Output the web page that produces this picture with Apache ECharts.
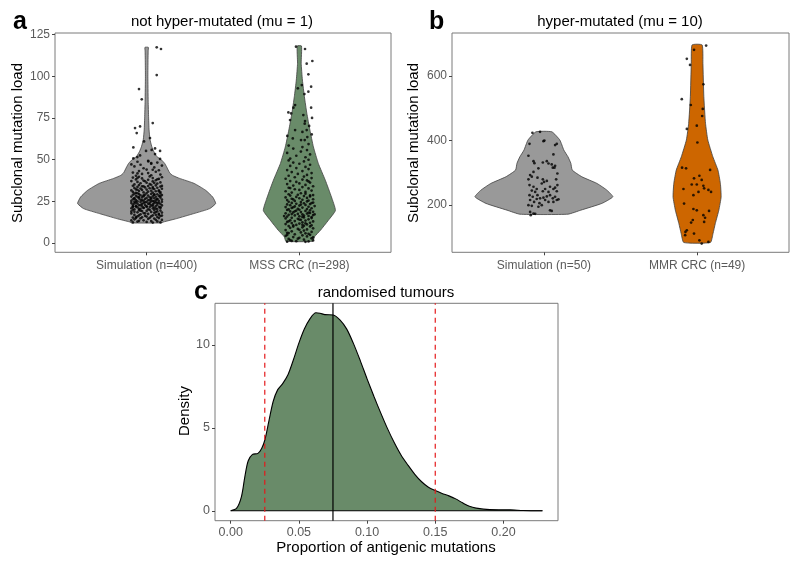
<!DOCTYPE html>
<html><head><meta charset="utf-8">
<script src="https://cdn.jsdelivr.net/npm/echarts/dist/echarts.min.js"></script>
<style>html,body{margin:0;padding:0;background:#fff}#c{width:800px;height:569px}</style>
</head><body><div id="c"></div>
<script>
// ---------- DATA ----------
const titleA = 'not hyper-mutated (mu = 1)';
const titleB = 'hyper-mutated (mu = 10)';
const titleC = 'randomised tumours';
const catsA = ['Simulation (n=400)', 'MSS CRC (n=298)'];
const catsB = ['Simulation (n=50)', 'MMR CRC (n=49)'];
const ticksA = [0, 25, 50, 75, 100, 125];
const ticksB = [200, 400, 600];
const ticksCx = [0, 0.05, 0.10, 0.15, 0.20];
const ticksCy = [0, 5, 10];
const meanLine = 0.075;
const lowLine = 0.025;
const highLine = 0.15;

// violin profiles: [load, half-width (in category units)]
const violinSimA = [[12.0,0.098],[12.6,0.111],[14.6,0.196],[17.6,0.308],[20.6,0.413],[23.7,0.452],[27.6,0.432],[31.6,0.386],[35.7,0.311],[38.7,0.216],[40.5,0.17],[42,0.151],[45.6,0.131],[47.7,0.118],[49.7,0.098],[52,0.065],[55,0.046],[58,0.033],[62,0.022],[67.7,0.016],[75,0.013],[85,0.010],[100,0.008],[110,0.009],[115,0.010],[117.3,0.011]];
const violinMSS = [[1,0.088],[3.6,0.098],[7.6,0.138],[13.6,0.190],[19.5,0.236],[27.6,0.210],[37.6,0.170],[47.7,0.124],[57.6,0.092],[67.7,0.069],[77.7,0.049],[87.7,0.033],[97.7,0.020],[107.7,0.012],[118.1,0.014]];
const violinSimB = [[172,0.157],[184.5,0.241],[205.3,0.378],[225.8,0.450],[246.5,0.411],[267.3,0.346],[287.8,0.248],[308.5,0.185],[329.3,0.176],[349.8,0.157],[370.5,0.130],[401.6,0.104],[427,0.052]];
const violinMMR = [[84.3,0.087],[112.2,0.104],[143.3,0.119],[184.5,0.142],[225.8,0.157],[267.3,0.152],[308.5,0.136],[349.8,0.103],[401.6,0.070],[453,0.055],[535.8,0.044],[639,0.038],[696,0.033]];

// jittered points: [x offset from category, load]
const simAPoints = [[-.09,12.3],[-.06,12.8],[.09,12.4],[.03,13.1],[-.02,13.6],[.06,13.9],[-.08,14.2],[.01,14.5],[.07,12.9],[-.04,14.8],[.05,14.6],[-.1,13.5],[.08,14.9],[-.05,13.3],[.0,12.6],[.1,13.8],[-.07,14.9],[.04,12.2],
[-.09,15.2],[-.03,15.4],[.02,15.1],[.07,15.6],[-.06,15.9],[.09,16.1],[-.01,16.3],[.04,16.6],[-.08,16.8],[.06,16.9],[-.04,17.2],[.01,17.4],[.08,17.5],[-.1,17.7],[-.02,17.9],[.05,18.1],[.1,18.2],[-.06,18.4],[.03,18.6],[-.08,18.7],[.07,18.9],[-.03,19.1],[.0,19.2],[.09,19.4],[-.05,19.6],[.05,19.7],[-.09,19.9],[.02,19.8],[-.07,15.5],[.03,16.0],[-.05,16.5],[.08,17.0],[-.01,17.8],[.06,18.5],[-.04,19.3],[.1,16.4],[-.1,18.9],[.0,15.8],
[-.08,20.1],[.01,20.2],[.07,20.3],[-.04,20.5],[.04,20.7],[-.1,20.8],[.09,20.9],[-.02,21.0],[.05,21.2],[-.06,21.3],[.02,21.5],[-.09,21.6],[.08,21.7],[-.03,21.9],[.0,22.0],[.06,22.1],[-.07,22.2],[.03,22.4],[.1,22.5],[-.05,22.6],[-.01,22.8],[.07,22.9],[-.09,23.0],[.04,23.1],[-.03,23.3],[.09,23.4],[.01,23.5],[-.06,23.6],[.05,23.8],[-.1,23.9],[-.02,24.0],[.08,24.1],[.02,24.2],[-.07,24.3],[.06,24.4],[-.04,24.5],[.0,24.6],[.1,24.7],[-.08,24.8],[.03,24.9],[-.05,20.4],[.06,20.6],[-.02,21.1],[.09,21.4],[-.07,21.8],[.04,22.3],[-.04,22.7],[.02,23.2],[-.08,23.7],[.07,24.0],[-.01,24.4],[.05,24.9],[-.09,22.0],[.0,21.6],
[-.06,25.0],[.04,25.1],[-.1,25.2],[.08,25.3],[-.02,25.4],[.01,25.6],[-.07,25.7],[.06,25.8],[-.04,25.9],[.1,26.0],[-.09,26.2],[.03,26.3],[-.01,26.4],[.07,26.5],[-.05,26.7],[.05,26.8],[-.08,26.9],[.0,27.0],[.09,27.2],[-.03,27.3],[.02,27.4],[-.06,27.6],[.06,27.7],[-.1,27.8],[.04,27.9],[-.02,28.0],[.08,28.2],[-.07,28.3],[.01,28.4],[-.04,28.6],[.1,28.7],[.05,28.8],[-.09,28.9],[-.01,29.0],[.07,29.2],[-.05,29.3],[.03,29.4],[-.08,29.6],[.09,29.7],[.0,29.9],[-.03,25.5],[.07,26.1],[-.08,26.6],[.03,27.1],[-.05,27.5],[.09,28.1],[-.02,28.5],[.05,29.1],[-.06,29.8],[.02,25.9],
[-.07,30.0],[.04,30.2],[-.02,30.3],[.09,30.5],[-.09,30.6],[.01,30.8],[.06,31.0],[-.05,31.1],[.03,31.3],[-.1,31.5],[.08,31.6],[-.03,31.8],[.0,32.0],[-.07,32.1],[.05,32.3],[.1,32.5],[-.04,32.6],[.02,32.8],[-.08,33.0],[.07,33.1],[-.01,33.3],[.04,33.5],[-.06,33.6],[.09,33.8],[-.03,34.0],[.01,34.1],[-.09,34.3],[.06,34.5],[-.05,34.7],[.03,34.9],[.08,30.9],[-.06,31.9],[.04,32.7],[-.02,33.9],[.1,34.2],
[-.08,35.1],[.02,35.3],[.07,35.6],[-.04,35.8],[.0,36.1],[.09,36.3],[-.06,36.6],[.04,36.9],[-.1,37.1],[-.02,37.4],[.06,37.6],[.01,37.9],[-.07,38.1],[.08,38.4],[-.03,38.7],[.04,38.9],[-.09,39.2],[.1,39.4],[-.05,39.7],[.02,39.9],[.05,36.0],[-.01,37.0],[.07,38.2],[-.06,39.0],
[-.07,40.3],[.03,40.6],[.09,41.0],[-.03,41.4],[.01,41.9],[-.09,42.2],[.06,42.7],[-.05,43.1],[.08,43.6],[.0,44.0],[-.02,44.8],[.05,45.3],[-.08,45.9],[.1,46.4],[-.04,46.9],[.03,47.5],[.07,48.2],[-.06,48.7],[.01,49.3],[-.1,47.1],[.04,43.9],[-.06,41.7],
[-.087,50.7],[.088,50.4],[.011,48.9],[-.043,52.5],[.055,53.3],[-.004,55.2],[.033,55.8],[.088,55.2],[-.087,57.3],[-.017,60.9],[.022,62.9],[-.065,65.9],[-.076,68.9],[-.043,69.9],[.040,71.9],[-.032,86.1],[-.050,92.3],[.066,100.7],[.066,117.3],[.094,116.3],[.055,56.7],[-.061,51.5],[.03,47.9]];

const mssPoints = [[-.08,0.8],[-.05,1.2],[.06,0.9],[.09,1.5],[-.02,1.1],[.03,2.0],[-.07,2.4],[.08,2.8],[.0,3.1],[-.04,3.5],[.05,3.9],[-.09,4.2],[.02,4.6],[.07,4.9],[-.06,1.7],[.04,0.7],[-.01,2.6],[.09,3.3],[-.08,4.8],
[-.03,5.2],[.06,5.5],[-.07,5.9],[.01,6.3],[.08,6.6],[-.05,7.0],[.03,7.4],[-.09,7.7],[.05,8.1],[-.01,8.4],[.09,8.8],[-.06,9.1],[.02,9.4],[-.04,9.8],[.07,9.9],[-.08,6.1],[.0,7.9],[.04,5.8],
[-.07,10.1],[.03,10.3],[.08,10.6],[-.02,10.8],[.05,11.1],[-.09,11.3],[.0,11.6],[-.05,11.9],[.07,12.1],[.02,12.4],[-.08,12.6],[.09,12.9],[-.03,13.1],[.04,13.4],[-.06,13.6],[.01,13.9],[.06,14.2],[-.01,14.5],[-.09,14.7],[.08,14.9],[-.04,10.5],[.04,11.8],[-.07,13.0],[.0,14.0],[.02,10.9],
[-.05,15.1],[.03,15.3],[.08,15.5],[-.08,15.8],[.0,16.0],[.06,16.2],[-.03,16.5],[.09,16.7],[-.07,16.9],[.02,17.1],[-.01,17.4],[.05,17.6],[-.09,17.8],[.07,18.0],[-.04,18.3],[.01,18.5],[.09,18.7],[-.06,18.9],[.04,19.2],[-.02,19.4],[.07,19.6],[-.08,19.8],[.0,19.9],[.03,16.4],[-.05,17.3],[.06,18.2],[-.1,16.1],[.02,15.6],[-.03,19.0],[.1,17.2],
[-.07,20.1],[.05,20.3],[-.01,20.5],[.08,20.8],[-.05,21.0],[.02,21.2],[-.09,21.5],[.06,21.7],[-.03,21.9],[.1,22.1],[.0,22.4],[-.06,22.6],[.04,22.8],[-.08,23.1],[.07,23.3],[-.02,23.5],[.03,23.8],[-.05,24.0],[.09,24.2],[.01,24.5],[-.07,24.7],[.05,24.9],[-.04,21.4],[.01,23.0],[.08,23.9],
[-.03,25.2],[.06,25.4],[-.08,25.7],[.02,25.9],[.09,26.2],[-.05,26.5],[.0,26.8],[.05,27.0],[-.09,27.3],[-.02,27.6],[.07,27.9],[.03,28.1],[-.06,28.4],[.09,28.7],[-.01,28.9],[-.07,29.2],[.04,29.5],[.01,29.8],[-.04,26.1],[.07,28.5],
[-.05,30.2],[.04,30.6],[-.09,31.0],[.08,31.4],[.0,31.8],[-.03,32.2],[.06,32.7],[-.07,33.1],[.02,33.5],[.09,34.0],[-.04,34.4],[.04,34.8],[-.08,35.3],[.0,35.7],[.07,36.2],[-.02,36.6],[-.06,37.1],[.05,37.5],[.02,38.0],[-.09,38.5],[.08,38.9],[-.03,39.4],[.03,39.8],[-.06,32.9],[.06,36.9],
[-.07,40.3],[.05,40.8],[-.01,41.4],[.08,41.9],[-.05,42.5],[.02,43.1],[-.08,43.7],[.06,44.3],[-.02,44.9],[.04,45.6],[-.06,46.2],[.07,46.9],[.0,47.5],[-.04,48.2],[.03,48.9],[-.07,49.5],[.06,49.9],
[-.06,50.6],[.04,51.4],[-.02,52.3],[.07,53.1],[-.08,54.0],[.01,54.8],[.05,55.7],[-.04,56.6],[.02,57.5],[-.07,58.4],[.06,59.3],
[-.022,117.7],[.037,116.3],[.085,109.1],[.048,107.5],[.059,101.1],[.077,93.7],[-.010,92.7],[.059,90.7],[.033,89.3],[.016,94.7],[-.028,82.7],[-.039,81.1],[.077,81.1],[-.072,78.3],[-.054,77.7],[.026,76.7],[.083,75.0],[-.061,73.7],[.037,73.1],[.064,70.2],[.035,71.5],[-.028,67.7],[.048,67.7],[.020,66.6],[.081,65.1],[-.079,64.2],[.052,63.5],[-.043,62.7],[.011,61.7],[.035,61.7]];

const simBPoints = [[-.075,424],[-.025,427],[.003,400],[-.003,398],[-.094,390],[.084,390],[.073,386],[.062,357],[-.101,353],[-.068,336],[-.062,330],[-.007,332],[.019,336],[.030,329],[.051,326],[.073,322],[.058,316],[.069,316],[.088,298],[-.036,314],[-.068,303],[-.090,293],[-.079,288],[-.042,285],[-.101,280],[-.007,280],[.001,272],[-.014,267],[.019,275],[.080,280],[-.094,262],[-.068,257],[-.047,250],[.040,257],[.088,262],[.073,254],[-.079,245],[-.057,241],[-.007,243],[.008,250],[.030,241],[.062,250],[.084,243],[-.094,231],[-.073,226],[-.042,231],[-.025,221],[-.003,223],[.019,227],[.040,231],[.058,221],[.073,226],[.095,218],[-.090,216],[-.064,210],[-.047,219],[-.029,206],[.008,216],[.030,210],[.062,210],[.084,216],[-.101,200],[-.079,198],[-.036,195],[-.014,200],[.040,184],[-.090,179],[-.068,174],[.051,182],[-.086,169],[-.057,173]];

const mmrPoints = [[-.020,681],[.059,694],[-.067,653],[-.046,634],[.041,574],[-.100,528],[-.041,510],[.037,498],[.033,476],[-.002,446],[-.067,436],[.002,394],[-.098,316],[-.072,314],[.085,309],[.015,291],[-.020,283],[.030,278],[-.035,264],[-.002,264],[.041,260],[-.089,250],[-.024,231],[.046,252],[.074,247],[.091,241],[.009,241],[-.085,205],[-.024,188],[-.002,184],[.078,182],[.041,169],[.052,161],[-.028,154],[.046,148],[-.039,146],[-.067,122],[-.076,117],[-.078,107],[-.020,112],[.015,91],[.030,81],[.074,86]];

// density curve: [proportion, density]
const densityC = [[0,0],[0.0044,0.16],[0.0079,0.86],[0.0104,2.06],[0.0128,3.0],[0.0160,3.40],[0.0200,3.46],[0.0227,3.76],[0.0250,4.25],[0.0280,5.4],[0.0312,6.6],[0.0345,7.3],[0.0380,7.65],[0.0420,8.2],[0.0460,9.1],[0.0500,10.1],[0.0540,10.95],[0.0580,11.55],[0.0625,11.93],[0.0655,11.9],[0.0691,11.82],[0.0752,11.8],[0.0801,11.5],[0.0850,10.96],[0.0899,10.1],[0.0950,9.05],[0.1000,7.95],[0.1050,6.9],[0.1100,5.9],[0.1150,4.95],[0.1200,4.1],[0.1250,3.35],[0.1300,2.75],[0.1350,2.2],[0.1400,1.75],[0.1450,1.42],[0.1500,1.22],[0.1550,1.05],[0.1600,0.9],[0.1650,0.72],[0.1700,0.48],[0.1750,0.27],[0.1800,0.16],[0.1900,0.07],[0.2000,0.06],[0.2050,0.06],[0.2144,0.02],[0.2286,0]];

// ---------- STYLE / LAYOUT ----------
const FONT = '"Liberation Sans", Arial, Helvetica, sans-serif';
const LABEL_C = '#5a5a5a';
const GREY = '#999999', GREEN = '#698B69', ORANGE = '#CD6600', RED = '#e41a1c';
const AX_A = [-5.6, 125.9], AX_B = [54, 733], AX_CX = [-0.0115, 0.2400], AX_CY = [-0.595, 12.5];

function violin(xi, cat, profile, color) {
  return {
    type: 'custom', xAxisIndex: xi, yAxisIndex: xi, silent: true, z: 2,
    data: [[cat, profile[0][0]], [cat, profile[profile.length - 1][0]]],
    renderItem: function (params, api) {
      if (params.dataIndex !== 0) return null;
      const pts = [];
      for (let i = 0; i < profile.length; i++) pts.push(api.coord([cat + profile[i][1], profile[i][0]]));
      for (let i = profile.length - 1; i >= 0; i--) pts.push(api.coord([cat - profile[i][1], profile[i][0]]));
      return { type: 'polygon', shape: { points: pts, smooth: 0.15 }, style: { fill: color, stroke: '#404040', lineWidth: 0.8 } };
    }
  };
}
function jitter(xi, cat, pts) {
  return {
    type: 'scatter', xAxisIndex: xi, yAxisIndex: xi, silent: true, z: 5,
    symbolSize: 2.7, itemStyle: { color: '#000' },
    data: pts.map(p => [cat + p[0], p[1]])
  };
}
function vline(x, color, dash, z) {
  return {
    type: 'line', xAxisIndex: 2, yAxisIndex: 2, silent: true, z: z,
    data: [[x, AX_CY[0]], [x, AX_CY[1]]], showSymbol: false, symbol: 'none',
    lineStyle: { color: color, type: dash, width: 1.2 }
  };
}
function tickAxis(gi, range, vals, fmt, margin, fs) {
  return {
    gridIndex: gi, type: 'value', min: range[0], max: range[1],
    splitLine: { show: false }, axisLine: { show: false, onZero: false },
    axisTick: { show: true, customValues: vals, length: 3, lineStyle: { color: '#444', width: 1 } },
    axisLabel: { show: true, customValues: vals, formatter: fmt, color: LABEL_C, fontSize: fs, fontFamily: FONT, margin: margin }
  };
}

const chart = echarts.init(document.getElementById('c'), null, { renderer: 'canvas' });
const gridBase = { show: true, borderColor: '#7a7a7a', borderWidth: 1, backgroundColor: 'transparent', containLabel: false };

const option = {
  animation: false,
  grid: [
    Object.assign({ left: 55, top: 33, width: 336, height: 219.3 }, gridBase),
    Object.assign({ left: 452, top: 33, width: 337, height: 219.3 }, gridBase),
    Object.assign({ left: 215, top: 303.3, width: 343, height: 217.4 }, gridBase)
  ],
  xAxis: [
    tickAxis(0, [0.4, 2.6], [1, 2], v => catsA[Math.round(v) - 1], 7, 12),
    tickAxis(1, [0.4, 2.6], [1, 2], v => catsB[Math.round(v) - 1], 7, 12),
    tickAxis(2, AX_CX, ticksCx, v => v.toFixed(2), 5, 12.5)
  ],
  yAxis: [
    tickAxis(0, AX_A, ticksA, v => String(v), 5, 12),
    tickAxis(1, AX_B, ticksB, v => String(v), 5, 12),
    tickAxis(2, AX_CY, ticksCy, v => String(v), 5, 12.5)
  ],
  series: [
    violin(0, 1, violinSimA, GREY),
    violin(0, 2, violinMSS, GREEN),
    violin(1, 1, violinSimB, GREY),
    violin(1, 2, violinMMR, ORANGE),
    jitter(0, 1, simAPoints),
    jitter(0, 2, mssPoints),
    jitter(1, 1, simBPoints),
    jitter(1, 2, mmrPoints),
    {
      type: 'line', xAxisIndex: 2, yAxisIndex: 2, silent: true, z: 2,
      data: densityC, showSymbol: false, symbol: 'none',
      smooth: 0.3,
      lineStyle: { color: '#000', width: 1.1 },
      areaStyle: { color: GREEN, opacity: 1 }
    },
    {
      type: 'line', xAxisIndex: 2, yAxisIndex: 2, silent: true, z: 3,
      data: [densityC[0], densityC[densityC.length - 1]], showSymbol: false, symbol: 'none',
      lineStyle: { color: '#000', width: 1.1 }
    },
    vline(lowLine, RED, [5, 4], 4),
    vline(highLine, RED, [5, 4], 4),
    vline(meanLine, '#000', 'solid', 4)
  ],
  graphic: [
    { type: 'text', x: 13, y: 22, style: { text: 'a', font: 'bold 25px ' + FONT, fill: '#000', align: 'left', verticalAlign: 'middle' } },
    { type: 'text', x: 429, y: 22, style: { text: 'b', font: 'bold 25px ' + FONT, fill: '#000', align: 'left', verticalAlign: 'middle' } },
    { type: 'text', x: 194, y: 292, style: { text: 'c', font: 'bold 25px ' + FONT, fill: '#000', align: 'left', verticalAlign: 'middle' } },
    { type: 'text', x: 222, y: 22, style: { text: titleA, font: '15px ' + FONT, fill: '#000', align: 'center', verticalAlign: 'middle' } },
    { type: 'text', x: 620, y: 22, style: { text: titleB, font: '15px ' + FONT, fill: '#000', align: 'center', verticalAlign: 'middle' } },
    { type: 'text', x: 386, y: 293, style: { text: titleC, font: '15px ' + FONT, fill: '#000', align: 'center', verticalAlign: 'middle' } },
    { type: 'text', x: 18, y: 143, rotation: Math.PI / 2, style: { text: 'Subclonal mutation load', font: '15px ' + FONT, fill: '#000', align: 'center', verticalAlign: 'middle' } },
    { type: 'text', x: 414, y: 143, rotation: Math.PI / 2, style: { text: 'Subclonal mutation load', font: '15px ' + FONT, fill: '#000', align: 'center', verticalAlign: 'middle' } },
    { type: 'text', x: 185, y: 411, rotation: Math.PI / 2, style: { text: 'Density', font: '15px ' + FONT, fill: '#000', align: 'center', verticalAlign: 'middle' } },
    { type: 'text', x: 386, y: 548, style: { text: 'Proportion of antigenic mutations', font: '15px ' + FONT, fill: '#000', align: 'center', verticalAlign: 'middle' } }
  ]
};
chart.setOption(option);
</script></body></html>
